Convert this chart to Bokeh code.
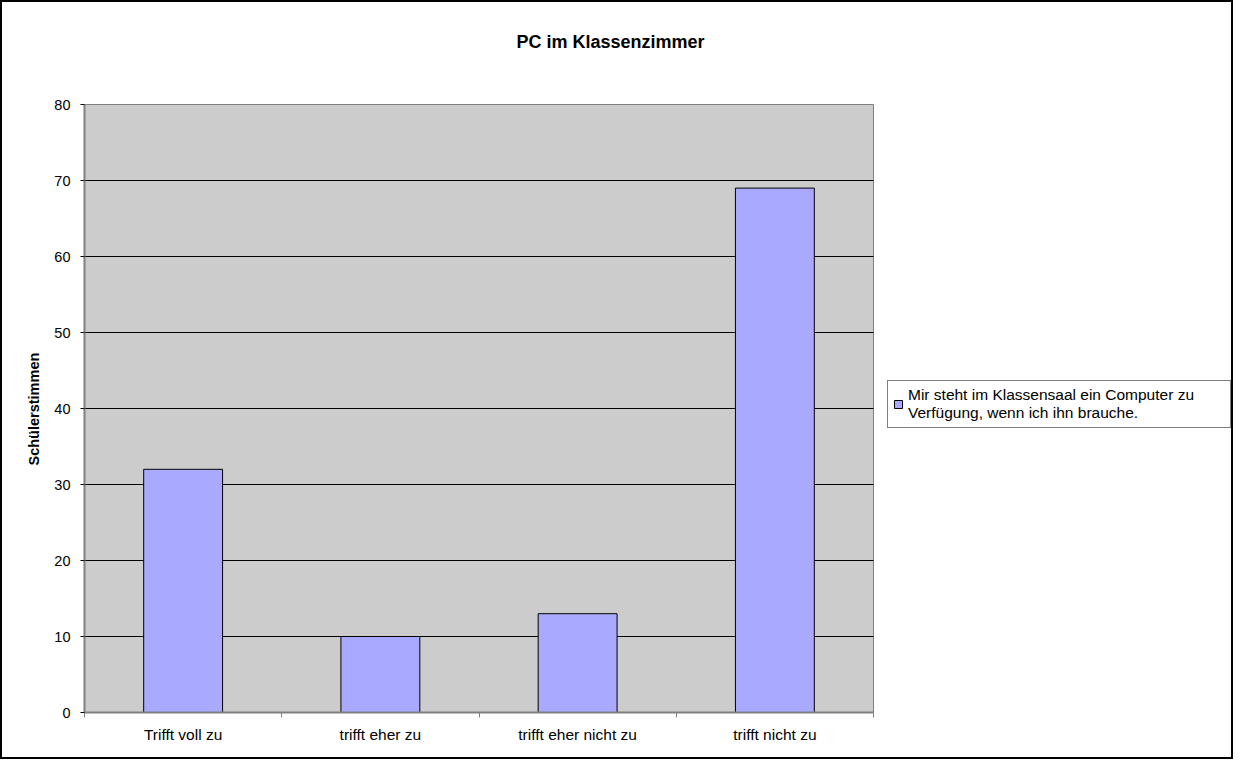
from bokeh.plotting import figure
from bokeh.models import (Range1d, FixedTicker, Legend, LegendItem, Label, Title,
                          ColumnDataSource)
from bokeh.embed import file_html
from bokeh.resources import INLINE

title_text = "PC im Klassenzimmer"
y_label = "Schülerstimmen"
categories = ["Trifft voll zu", "trifft eher zu", "trifft eher nicht zu", "trifft nicht zu"]
values = [32, 10, 13, 69]
series_name = "Mir steht im Klassensaal ein Computer zu\nVerfügung, wenn ich ihn brauche."
y_ticks = [0, 10, 20, 30, 40, 50, 60, 70, 80]

FONT = "Liberation Sans"
BAR = "#a9aaff"
PLOT_BG = "#cccccc"
AXIS_GREY = "#808080"

# layout (pixels)
W, H = 1233, 759
LEFT, BOTTOM = 82, 49
AREA_W, AREA_H = 789, 608          # size of the grey plot area
FRAME_W, FRAME_H = W - LEFT, H - BOTTOM

n = len(categories)
y_min, y_max = y_ticks[0], y_ticks[-1]
xs = [i + 0.5 for i in range(n)]
src = ColumnDataSource(data=dict(x=xs, top=values))

p = figure(width=W, height=H, output_backend="svg", toolbar_location=None,
           x_range=Range1d(0, n * FRAME_W / AREA_W),
           y_range=Range1d(y_min, y_max * FRAME_H / AREA_H),
           min_border_left=LEFT, min_border_right=0, min_border_top=0,
           min_border_bottom=BOTTOM,
           background_fill_color="white", border_fill_color="white",
           outline_line_color=None,
           styles={"border": "2px solid black"})

# grey plot area
p.quad(left=[0], right=[n], bottom=[y_min], top=[y_max],
       fill_color=PLOT_BG, line_color=AXIS_GREY, line_width=1, level="image")

# horizontal grid lines at the inner ticks
grid_y = y_ticks[1:-1]
p.segment(x0=[0] * len(grid_y), x1=[n] * len(grid_y), y0=grid_y, y1=grid_y,
          line_color="black", line_width=1, level="underlay")

r = p.vbar(x="x", top="top", width=0.4, bottom=0, source=src,
           fill_color=BAR, line_color="black", line_width=1)

p.xgrid.visible = False
p.ygrid.visible = False

# x axis
p.xaxis.bounds = (0, n)
p.xaxis.ticker = FixedTicker(ticks=xs, minor_ticks=list(range(n + 1)))
p.xaxis.major_label_overrides = {x: c for x, c in zip(xs, categories)}
p.xaxis.major_tick_out = 0
p.xaxis.major_tick_in = 0
p.xaxis.minor_tick_out = 5
p.xaxis.minor_tick_in = 0
p.xaxis.minor_tick_line_color = AXIS_GREY
p.xaxis.axis_line_color = AXIS_GREY
p.xaxis.axis_line_width = 2
p.xaxis.major_label_standoff = 8
p.xaxis.major_label_text_font = FONT
p.xaxis.major_label_text_font_size = "15.5px"
p.xaxis.major_label_text_color = "black"

# y axis
p.yaxis.bounds = (y_min, y_max)
p.yaxis.ticker = FixedTicker(ticks=y_ticks, minor_ticks=[])
p.yaxis.major_tick_out = 4
p.yaxis.major_tick_in = 0
p.yaxis.major_tick_line_color = "black"
p.yaxis.axis_line_color = AXIS_GREY
p.yaxis.axis_line_width = 2
p.yaxis.major_label_standoff = 10
p.yaxis.major_label_text_font = FONT
p.yaxis.major_label_text_font_size = "14.5px"
p.yaxis.major_label_text_color = "black"

# y axis title (left panel)
ytitle = Title(text=y_label, align="left", offset=247, standoff=20,
               vertical_align="bottom",
               text_font=FONT, text_font_size="14.5px", text_font_style="bold",
               text_color="black")
p.add_layout(ytitle, "left")

# chart title
title = Label(x=526, y=671, x_units="screen", y_units="screen", text=title_text,
              text_font=FONT, text_font_size="18px", text_font_style="bold",
              text_align="center", text_baseline="alphabetic", text_color="black")
p.add_layout(title)

legend = Legend(items=[LegendItem(label=series_name, renderers=[r])],
                location=(803, 284), orientation="vertical",
                label_text_font=FONT, label_text_font_size="15.5px",
                label_text_color="black", label_width=317,
                glyph_width=10, glyph_height=10, label_standoff=5,
                padding=5, margin=0, spacing=0,
                border_line_color="black", border_line_width=1,
                background_fill_color="white", background_fill_alpha=1)
p.add_layout(legend, "center")

open("out.html", "w").write(file_html(p, INLINE))
